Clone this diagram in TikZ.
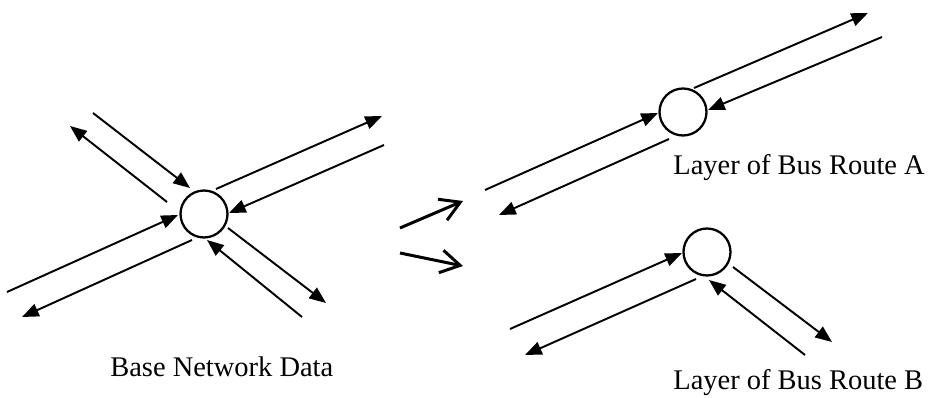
\documentclass[tikz,border=0pt]{standalone}
\usepackage{fontspec}
\setmainfont{Liberation Serif}
\usetikzlibrary{arrows.meta}
\begin{document}
\begin{tikzpicture}[x=0.02cm,y=-0.02cm,
  link/.style={line width=1.1pt,-{Triangle[length=9.5pt,width=7.5pt]}},
  nodecirc/.style={circle,draw,line width=1.3pt,minimum size=0.94cm,inner sep=0pt,fill=white},
  flow/.style={line width=1.7pt,-{Straight Barb[length=11pt,width=13pt,line width=1.7pt]}},
  lbl/.style={font=\fontsize{16.2}{19}\selectfont,inner sep=0pt,anchor=base west}]
\useasboundingbox (0,0) rectangle (933,398);
\fill[white] (0,0) rectangle (933,398);
% nodes
\node[nodecirc] (c0) at (204,214) {};
\node[nodecirc] (ca) at (683,112) {};
\node[nodecirc] (cb) at (707,252) {};
% base network endpoints
\coordinate (l1s) at (93,113);  \coordinate (l1e) at (190,188);
\coordinate (l2s) at (167,202); \coordinate (l2e) at (70,126);
\coordinate (l3s) at (216,189); \coordinate (l3e) at (382,116);
\coordinate (l4s) at (384,145); \coordinate (l4e) at (229,213);
\coordinate (l5s) at (7,292);   \coordinate (l5e) at (178,215);
\coordinate (l6s) at (192,240); \coordinate (l6e) at (22,317);
\coordinate (l7s) at (228,228); \coordinate (l7e) at (326,303);
\coordinate (l8s) at (302,317); \coordinate (l8e) at (207,240);
\draw[link] (l1s) -- (l1e);
\draw[link] (l2s) -- (l2e);
\draw[link] (l3s) -- (l3e);
\draw[link] (l4s) -- (l4e);
\draw[link] (l5s) -- (l5e);
\draw[link] (l6s) -- (l6e);
\draw[link] (l7s) -- (l7e);
\draw[link] (l8s) -- (l8e);
% transformation arrows
\coordinate (f1s) at (400,228); \coordinate (f1e) at (463,201);
\coordinate (f2s) at (400,253); \coordinate (f2e) at (463,266);
\draw[flow] (f1s) -- (f1e);
\draw[flow] (f2s) -- (f2e);
% route A
\coordinate (a1s) at (485,190); \coordinate (a1e) at (658,113);
\coordinate (a2s) at (694,88);  \coordinate (a2e) at (868,13);
\coordinate (a3s) at (882,37);  \coordinate (a3e) at (708,110);
\coordinate (a4s) at (669,139); \coordinate (a4e) at (499,215);
\draw[link] (a1s) -- (a1e);
\draw[link] (a2s) -- (a2e);
\draw[link] (a3s) -- (a3e);
\draw[link] (a4s) -- (a4e);
% route B
\coordinate (b1s) at (510,329); \coordinate (b1e) at (682,253);
\coordinate (b2s) at (696,279); \coordinate (b2e) at (525,355);
\coordinate (b3s) at (733,267); \coordinate (b3e) at (832,342);
\coordinate (b4s) at (805,355); \coordinate (b4e) at (709,280);
\draw[link] (b1s) -- (b1e);
\draw[link] (b2s) -- (b2e);
\draw[link] (b3s) -- (b3e);
\draw[link] (b4s) -- (b4e);
% labels
\node[lbl] (lbase) at (110,377) {Base Network Data};
\node[lbl] (lA) at (673,175) {Layer of Bus Route A};
\node[lbl] (lB) at (673,390) {Layer of Bus Route B};
\end{tikzpicture}
\end{document}
